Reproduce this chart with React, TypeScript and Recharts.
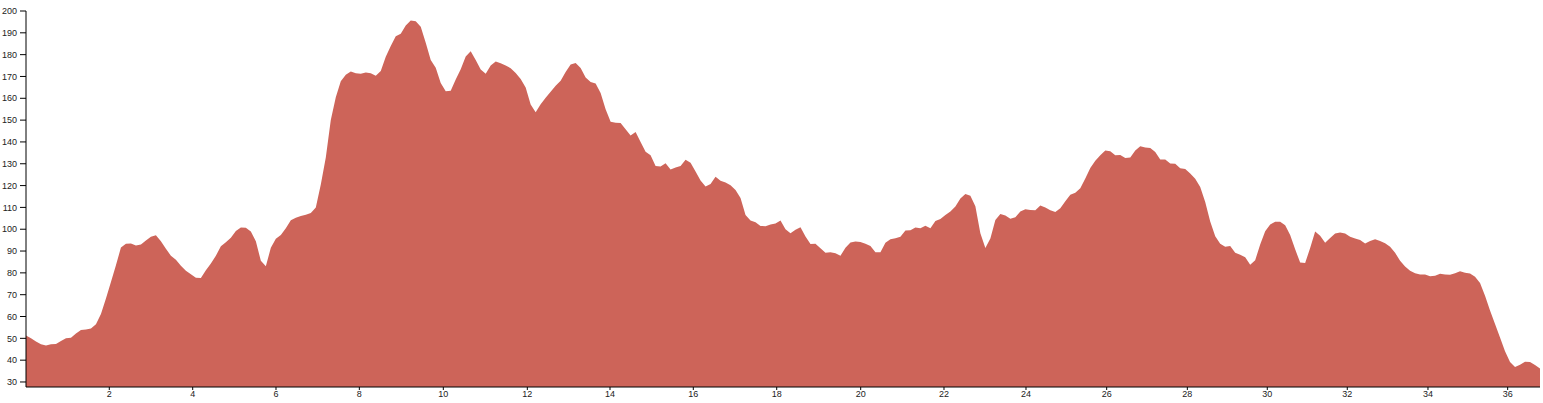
import { AreaChart, Area, XAxis, YAxis } from 'recharts';

// elevation profile, one sample every ~5px along the route
const elevation = [
  51.3, 50, 48.5, 47.3, 46.7, 47.3, 47.4, 48.8, 50, 50.3,
  52.2, 53.8, 54, 54.5, 56.5, 61.2, 68.2, 75.8, 83.5, 91.6,
  93.3, 93.5, 92.5, 93, 94.8, 96.5, 97.2, 94.5, 91, 87.8,
  86, 83.3, 81, 79.4, 77.8, 77.6, 81.2, 84.3, 87.9, 92.2,
  94, 96.1, 99.2, 100.8, 100.7, 98.9, 94.5, 85.5, 83, 91.5,
  95.6, 97.3, 100.5, 104.1, 105.3, 106.1, 106.6, 107.4, 110, 120.5,
  132.9, 150, 160.5, 167.8, 170.8, 172.3, 171.5, 171.3, 171.8, 171.5,
  170.3, 172.5, 179, 184, 188.4, 189.6, 193.3, 195.6, 195.3, 192.8,
  185.5, 177.5, 174, 167, 163.2, 163.4, 168.6, 173.3, 179.2, 181.6,
  177.6, 173.2, 171.2, 175, 176.9, 176, 175, 173.8, 171.6, 168.8,
  165, 157.2, 153.6, 157.3, 160.2, 163, 165.8, 168, 172, 175.5,
  176.2, 173.9, 169.5, 167.5, 166.8, 162.4, 155, 149.2, 148.8, 148.7,
  145.8, 142.9, 144.6, 140, 135.5, 133.9, 129, 128.8, 130.2, 127.4,
  128.3, 129, 131.8, 130.5, 126.4, 122.3, 119.6, 120.7, 124, 122.2,
  121.4, 120.1, 118, 114.3, 106.5, 104, 103.2, 101.5, 101.4, 102.2,
  102.6, 104, 100, 98.2, 99.8, 100.9, 96.7, 93.2, 93.3, 91.3,
  89.2, 89.4, 89, 87.8, 91.5, 93.9, 94.4, 94.1, 93.4, 92.3,
  89.5, 89.5, 93.8, 95.4, 95.9, 96.6, 99.4, 99.5, 100.8, 100.4,
  101.6, 100.5, 103.8, 104.7, 106.5, 108.1, 110.4, 114.1, 116.1, 115.3,
  110.5, 98.2, 91.4, 95.8, 104.2, 107, 106.3, 104.8, 105.5, 108.1,
  109.1, 108.8, 108.7, 110.9, 109.9, 108.7, 107.9, 109.6, 112.8, 115.8,
  116.7, 118.8, 123.3, 128, 131.4, 133.9, 136.1, 135.7, 133.9, 134,
  132.6, 132.9, 136.1, 138, 137.5, 137.2, 135.4, 131.9, 132, 130.1,
  130, 127.9, 127.6, 125.5, 123.1, 119.3, 112.5, 103.5, 96.8, 93.3,
  92, 92.3, 89.2, 88.3, 87.2, 83.7, 85.8, 93, 99.1, 102.2,
  103.4, 103.4, 101.8, 97.3, 90.8, 84.7, 84.5, 91.4, 99, 97,
  93.8, 96, 98, 98.5, 98, 96.5, 95.8, 95.1, 93.5, 94.6,
  95.4, 94.6, 93.6, 92, 89.2, 85.5, 82.9, 81, 79.8, 79.3,
  79.2, 78.4, 78.7, 79.6, 79.3, 79.1, 79.8, 80.7, 80.1, 79.7,
  78.2, 75.4, 69.5, 62.7, 56.6, 50.4, 44.1, 39.2, 36.9, 37.9,
  39.3, 39.1, 37.8, 36.2,
];

// km labels and the sample each one falls on (samples are not evenly spaced in km)
const kmLabels = [2, 4, 6, 8, 10, 12, 14, 16, 18, 20, 22, 24, 26, 28, 30, 32, 34, 36];
const kmSample = [
  16.67, 33.36, 50.03, 66.71, 83.52, 100.33, 116.88, 133.55, 150.24,
  167.05, 183.72, 200.13, 216.28, 232.42, 248.42, 264.43, 280.58, 296.53,
];

const elevTicks = [30, 40, 50, 60, 70, 80, 90, 100, 110, 120, 130, 140, 150, 160, 170, 180, 190, 200];

const data = elevation.map((elev, i) => ({ i, elev }));

const tickStyle = { fontSize: 9, fill: '#222', fontFamily: '"Liberation Sans", Arial, sans-serif' };

export default function App() {
  return (
    <div style={{ position: 'absolute', left: 0, top: 0 }}>
      <AreaChart width={1543} height={403} data={data} margin={{ top: 11, right: 3, left: 0, bottom: 0 }}>
        <XAxis
          type="number"
          dataKey="i"
          domain={[0, elevation.length - 1]}
          ticks={kmSample}
          tickFormatter={(v) => String(kmLabels[kmSample.indexOf(v)])}
          height={16}
          tickSize={3}
          tickMargin={1}
          tick={tickStyle}
          axisLine={{ stroke: '#000' }}
          tickLine={{ stroke: '#000' }}
          allowDataOverflow
        />
        <YAxis
          type="number"
          domain={[27.7, 200]}
          ticks={elevTicks}
          width={26}
          tickSize={6}
          tickMargin={3}
          tick={tickStyle}
          axisLine={{ stroke: '#000' }}
          tickLine={{ stroke: '#000' }}
          interval={0}
          allowDataOverflow
        />
        <Area
          type="linear"
          dataKey="elev"
          stroke="none"
          fill="#cd6459"
          fillOpacity={1}
          isAnimationActive={false}
        />
      </AreaChart>
    </div>
  );
}
